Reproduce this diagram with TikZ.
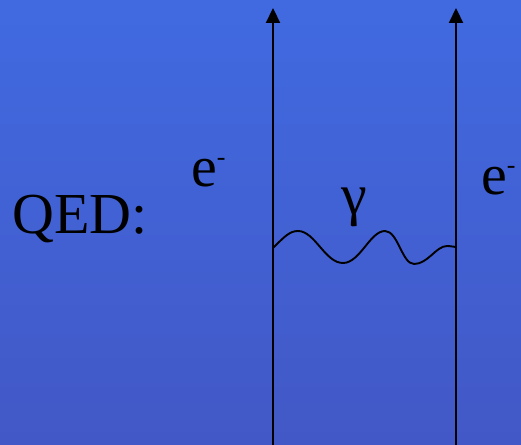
\documentclass[tikz,border=0pt]{standalone}
\usepackage{fontspec}
\setmainfont{Liberation Serif}
\usetikzlibrary{arrows.meta}
\definecolor{bgtop}{RGB}{65,106,225}
\definecolor{bgbot}{RGB}{66,88,198}
\newcommand{\supminus}{\raisebox{21pt}{\fontsize{26}{26}\selectfont -}}
\tikzset{
  fermion/.style={line width=2.2pt,-{Triangle[width=14pt,length=15pt]}},
  photon/.style={line width=1.9pt},
  lbl/.style={inner sep=0pt,anchor=base west,font=\fontsize{58}{60}\selectfont}
}
\begin{document}
\begin{tikzpicture}[x=1pt,y=-1pt]
\shade[top color=bgtop,bottom color=bgbot] (0,0) rectangle (521,444);
\useasboundingbox (0,0) rectangle (521,444);
\coordinate (l0) at (273,445);
\coordinate (l1) at (273,8);
\coordinate (r0) at (456,445);
\coordinate (r1) at (456,8);
\draw[fermion] (l0) -- (l1);
\draw[fermion] (r0) -- (r1);
\coordinate (wa) at (273,248);
\coordinate (wb) at (456,247);
\draw[photon] (wa) .. controls (285,236) and (290,231) .. (298,231)
  .. controls (315,231) and (325,263) .. (343,263)
  .. controls (360,263) and (370,231) .. (385,231)
  .. controls (398,231) and (402,264) .. (414,264)
  .. controls (428,264) and (436,246) .. (447,246)
  .. controls (451,246) and (454,247) .. (wb);
\node[lbl] (qed) at (12,233) {QED:};
\node[lbl] (e1) at (191,186) {e\supminus};
\node[lbl] (e2) at (481,194) {e\supminus};
\node[lbl] (g) at (341,214) {γ};
\end{tikzpicture}
\end{document}
